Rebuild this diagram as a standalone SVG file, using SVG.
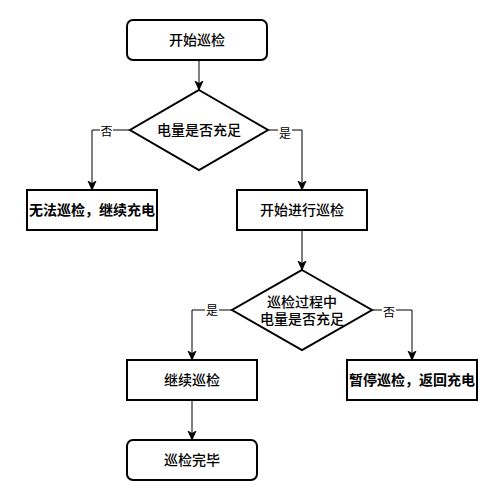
<svg xmlns="http://www.w3.org/2000/svg" width="503" height="500" viewBox="0 0 503 500">
<defs>
<style>
.box{fill:#fff;stroke:#000;stroke-width:2}
.t{font-family:"Liberation Sans","Noto Sans CJK SC",sans-serif;font-size:14px;font-weight:500;fill:#000;text-anchor:middle;dominant-baseline:central}
.b{font-weight:bold}
.lbl{font-family:"Liberation Sans","Noto Sans CJK SC",sans-serif;font-size:12px;fill:#000;text-anchor:middle;dominant-baseline:central}
.c{fill:none;stroke:#000;stroke-width:1;marker-end:url(#arr)}
.lb{fill:#fff}
</style>
<marker id="arr" markerUnits="userSpaceOnUse" markerWidth="10" markerHeight="10" viewBox="0 0 10 10" refX="9" refY="5" orient="auto">
<path d="M0,1 L9,5 L0,9 L2.5,5 Z" fill="#000" stroke="#000" stroke-width="0.8"/>
</marker>
</defs>
<rect width="503" height="500" fill="#fff"/>
<g id="connectors">
<path class="c" d="M199,60 V90"/>
<path class="c" d="M130,130 H92 V190"/>
<path class="c" d="M268,130 H302 V190"/>
<path class="c" d="M302,230 V270"/>
<path class="c" d="M232,310 H192 V360"/>
<path class="c" d="M372,310 H412 V360"/>
<path class="c" d="M192,400 V440"/>
<rect class="lb" x="100" y="124" width="13" height="14"/>
<text class="lbl" x="106.5" y="131.5">否</text>
<rect class="lb" x="278" y="127" width="14" height="14"/>
<text class="lbl" x="285" y="134">是</text>
<rect class="lb" x="205" y="304" width="14" height="14"/>
<text class="lbl" x="212" y="311">是</text>
<rect class="lb" x="382" y="305" width="14" height="14"/>
<text class="lbl" x="389" y="312.5">否</text>
</g>
<g id="start">
<rect class="box" x="127" y="20" width="140" height="40" rx="6"/>
<text class="t" x="197" y="40">开始巡检</text>
</g>
<g id="check1">
<polygon class="box" points="199,90 268,130 199,170 130,130"/>
<text class="t" x="199" y="130">电量是否充足</text>
</g>
<g id="nocharge">
<rect class="box" x="27" y="190" width="130" height="40"/>
<text class="t b" x="92" y="210">无法巡检，继续充电</text>
</g>
<g id="begin">
<rect class="box" x="237" y="190" width="130" height="40"/>
<text class="t" x="302" y="210">开始进行巡检</text>
</g>
<g id="check2">
<polygon class="box" points="302,270 372,310 302,350 232,310"/>
<text class="t" x="302" y="302">巡检过程中</text>
<text class="t" x="302" y="319">电量是否充足</text>
</g>
<g id="continue">
<rect class="box" x="127" y="360" width="130" height="40"/>
<text class="t" x="192" y="380">继续巡检</text>
</g>
<g id="pause">
<rect class="box" x="347" y="360" width="130" height="40"/>
<text class="t b" x="412" y="380">暂停巡检，返回充电</text>
</g>
<g id="end">
<rect class="box" x="127" y="440" width="130" height="40" rx="6"/>
<text class="t" x="192" y="460">巡检完毕</text>
</g>
</svg>
